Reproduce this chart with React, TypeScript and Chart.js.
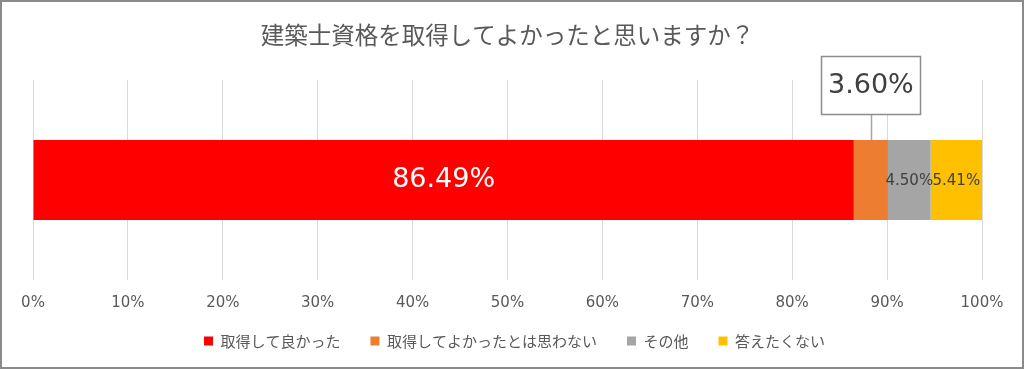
import React, { useEffect, useRef } from "react";
import { Chart, registerables } from "chart.js";

Chart.register(...registerables);

const titleText = "建築士資格を取得してよかったと思いますか？";
const categories = ["回答"];
const seriesLabels = ["取得して良かった", "取得してよかったとは思わない", "その他", "答えたくない"];
const seriesValues = [86.49, 3.6, 4.5, 5.41];
const seriesColors = ["#FF0000", "#ED7D31", "#A5A5A5", "#FFC000"];
const axisMin = 0;
const axisMax = 100;
const axisStep = 10;

const CJK = "'Noto Sans CJK JP', 'Noto Sans', sans-serif";
const NUM = "'DejaVu Sans', sans-serif";

const segmentLabelPlugin = {
  id: "segmentLabels",
  afterDatasetsDraw(chart: any) {
    const ctx = chart.ctx;
    ctx.save();
    chart.data.datasets.forEach((ds: any, i: number) => {
      const meta = chart.getDatasetMeta(i);
      if (meta.hidden) return;
      meta.data.forEach((el: any, j: number) => {
        const p = el.getProps(["x", "y", "base", "height"], true);
        const cx = (p.x + p.base) / 2;
        const text = Number(ds.data[j]).toFixed(2) + "%";
        ctx.textAlign = "center";
        ctx.textBaseline = "middle";
        if (i === 0) {
          ctx.fillStyle = "#FFFFFF";
          ctx.font = `27px ${NUM}`;
          ctx.fillText(text, cx, p.y);
        } else if (i === 1) {
          const top = p.y - p.height / 2;
          const boxW = 99;
          const boxH = 58;
          const boxBottom = top - 26;
          const boxTop = boxBottom - boxH;
          ctx.strokeStyle = "#A6A6A6";
          ctx.lineWidth = 1.5;
          ctx.beginPath();
          ctx.moveTo(Math.round(cx) + 0.5, top);
          ctx.lineTo(Math.round(cx) + 0.5, boxBottom);
          ctx.stroke();
          ctx.fillStyle = "#FFFFFF";
          const bx = Math.round(cx - boxW / 2) + 0.5;
          const by = Math.round(boxTop) + 0.5;
          ctx.fillRect(bx, by, boxW, boxH);
          ctx.strokeStyle = "#8C8C8C";
          ctx.lineWidth = 1.5;
          ctx.strokeRect(bx, by, boxW, boxH);
          ctx.fillStyle = "#404040";
          ctx.font = `27px ${NUM}`;
          ctx.fillText(text, cx, boxTop + boxH / 2 + 1);
        } else {
          ctx.fillStyle = "#404040";
          ctx.font = `15px ${NUM}`;
          ctx.fillText(text, cx, p.y + 1);
        }
      });
    });
    ctx.restore();
  },
};

const framePlugin = {
  id: "frame",
  afterLayout(chart: any) {
    const lg = chart.legend;
    if (lg) {
      lg.left += 7;
      lg.right += 7;
      lg.top -= 22.5;
      lg.bottom = chart.height;
      lg.height = lg.bottom - lg.top;
    }
  },
  beforeDraw(chart: any) {
    const ctx = chart.ctx;
    ctx.save();
    ctx.fillStyle = "#FFFFFF";
    ctx.fillRect(0, 0, chart.width, chart.height);
    ctx.restore();
  },
  afterDraw(chart: any) {
    const ctx = chart.ctx;
    ctx.save();
    ctx.strokeStyle = "#8A8A8A";
    ctx.lineWidth = 2;
    ctx.strokeRect(1, 1, chart.width - 2, chart.height - 2);
    ctx.restore();
  },
};

export default function App() {
  const canvasRef = useRef<HTMLCanvasElement | null>(null);

  useEffect(() => {
    if (!canvasRef.current) return;
    const chart = new Chart(canvasRef.current, {
      type: "bar",
      data: {
        labels: categories,
        datasets: seriesLabels.map((label, i) => ({
          label,
          data: [seriesValues[i]],
          backgroundColor: seriesColors[i],
          borderWidth: 0,
          categoryPercentage: 1,
          barPercentage: 0.4,
        })),
      },
      options: {
        indexAxis: "y",
        animation: false,
        responsive: true,
        maintainAspectRatio: false,
        layout: { padding: { left: 33, right: 42, top: 0, bottom: 0 } },
        scales: {
          x: {
            stacked: true,
            min: axisMin,
            max: axisMax,
            border: { display: false },
            grid: { color: "#D9D9D9", lineWidth: 1, drawTicks: false },
            ticks: {
              stepSize: axisStep,
              padding: 14,
              color: "#595959",
              font: { family: NUM, size: 15 },
              callback: (v: any) => `${v}%`,
            },
          },
          y: {
            stacked: true,
            display: false,
          },
        },
        plugins: {
          title: {
            display: true,
            text: titleText,
            color: "#595959",
            font: { family: CJK, size: 23.5, weight: "normal" },
            padding: { top: 20.7, bottom: 31.1 },
          },
          legend: {
            display: true,
            position: "bottom",
            align: "center",
            maxHeight: 43,
            labels: {
              boxWidth: 9,
              boxHeight: 9,
              padding: 30,
              color: "#595959",
              font: { family: CJK, size: 15 },
            },
          },
          tooltip: { enabled: true },
        },
      },
      plugins: [segmentLabelPlugin, framePlugin],
    });
    return () => chart.destroy();
  }, []);

  return (
    <div style={{ position: "fixed", left: 0, top: 0, width: 1024, height: 369 }}>
      <canvas ref={canvasRef} />
    </div>
  );
}
